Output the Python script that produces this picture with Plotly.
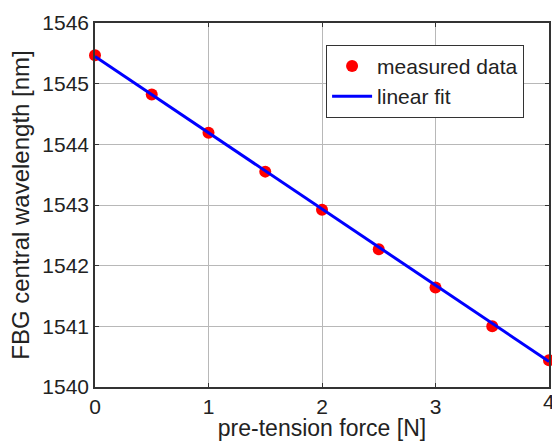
import plotly.graph_objects as go

force_n = [0, 0.5, 1, 1.5, 2, 2.5, 3, 3.5, 4]
wavelength_nm = [1545.47, 1544.82, 1544.19, 1543.55, 1542.92, 1542.27, 1541.64, 1541.00, 1540.44]
fit_x = [0, 4]
fit_y = [1545.45, 1540.42]
x_ticks = [0, 1, 2, 3, 4]
y_ticks = [1540, 1541, 1542, 1543, 1544, 1545, 1546]

FONT = "Liberation Sans, Arial, sans-serif"
TXT = "#222222"

fig = go.Figure()
fig.add_trace(go.Scatter(x=force_n, y=wavelength_nm, mode="markers", name="measured data",
                         marker=dict(color="#ff0000", size=12, line=dict(width=0)),
                         cliponaxis=False))
fig.add_trace(go.Scatter(x=fit_x, y=fit_y, mode="lines", name="linear fit",
                         line=dict(color="#0000ff", width=3)))

axis_common = dict(showgrid=True, gridcolor="#b8b8b8", gridwidth=1,
                   showline=True, linecolor="#333333", linewidth=1.5, mirror="ticks",
                   ticks="inside", ticklen=4, tickcolor="#333333", zeroline=False,
                   tickfont=dict(family=FONT, size=21, color=TXT))

fig.update_xaxes(range=[0, 4], tickvals=x_ticks[:-1], **axis_common,
                 title=dict(text="pre-tension force [N]", standoff=6,
                            font=dict(family=FONT, size=23, color=TXT)))
fig.update_yaxes(range=[1540, 1546], tickvals=y_ticks, **axis_common,
                 title=dict(text="FBG central wavelength [nm]", standoff=6,
                            font=dict(family=FONT, size=24, color=TXT)))

# last x tick label (partly cut by the image edge in the reference)
fig.add_annotation(x=x_ticks[-1], xref="x", y=0, yref="paper", yanchor="top",
                   xanchor="center", yshift=-1, text=str(x_ticks[-1]), showarrow=False,
                   font=dict(family=FONT, size=21, color=TXT))

fig.update_layout(
    width=552, height=441,
    margin=dict(l=95, r=1, t=23, b=54),
    paper_bgcolor="white", plot_bgcolor="white",
    font=dict(family=FONT, color=TXT),
    legend=dict(x=0.509, y=0.94, xanchor="left", yanchor="top",
                bgcolor="white", bordercolor="#333333", borderwidth=1,
                font=dict(family=FONT, size=21, color=TXT),
                tracegroupgap=0, itemwidth=40),
    showlegend=True,
)

fig.write_html("out.html")
